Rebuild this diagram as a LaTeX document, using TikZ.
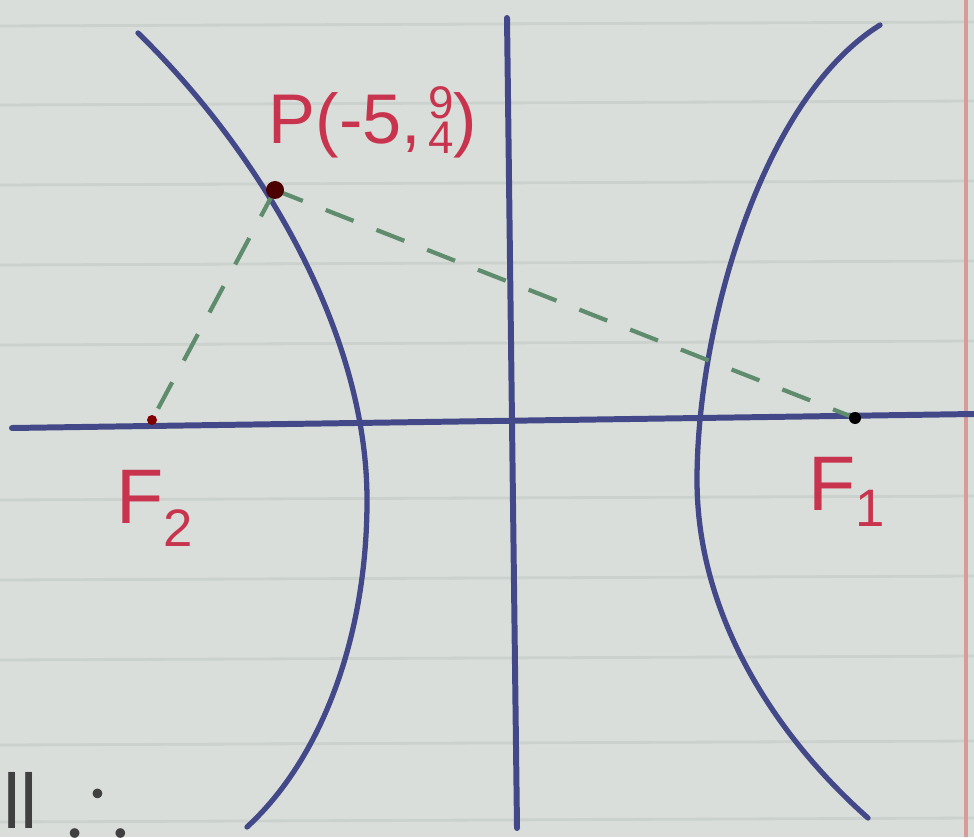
\documentclass[tikz,border=0pt]{standalone}
\usepackage{amssymb}
\usepackage{fontspec}
\setmainfont{Liberation Sans}
\definecolor{paper}{HTML}{D9DEDA}
\definecolor{rule}{HTML}{CBD1CD}
\definecolor{ink}{HTML}{434889}
\definecolor{redink}{HTML}{C8344E}
\definecolor{greenink}{HTML}{5E8C6C}
\definecolor{margin}{HTML}{D99A9A}
\tikzset{
  curve/.style={ink, line width=1.5pt, line cap=round},
  axis/.style={ink, line width=1.7pt, line cap=round},
  dashline/.style={greenink, line width=1.2pt, dash pattern=on 8.5pt off 7pt},
  lbl/.style={text=redink, font=\fontsize{20}{24}\selectfont, inner sep=0pt},
  flbl/.style={text=redink, font=\fontsize{22}{26}\selectfont, inner sep=0pt},
  ruled/.style={rule, line width=0.8pt}
}
\begin{document}
\begin{tikzpicture}[x=0.01cm, y=-0.01cm]
\useasboundingbox (0,0) rectangle (974,837);
\fill[paper] (0,0) rectangle (974,837);
% ruled lines
\foreach \yy in {26,105,185,265,345,500,580,660,745,822}
  \draw[ruled] (0,\yy) -- (974,\yy-4);
\draw[margin, line width=1.2pt] (966,0) -- (966,837);
% axes
\coordinate (xl) at (12,428);
\coordinate (xr) at (974,414);
\coordinate (yt) at (507,18);
\coordinate (yb) at (517,828);
\draw[axis] (xl) -- (xr);
\draw[axis] (yt) -- (yb);
% hyperbola branches
\coordinate (Lt) at (138,33);
\coordinate (Lv) at (367,500);
\coordinate (Lb) at (247,827);
\coordinate (Rt) at (880,25);
\coordinate (Rv) at (697,480);
\coordinate (Rb) at (868,818);
\draw[curve] (Lt) .. controls (258,150) and (367,330) .. (Lv)
                  .. controls (367,640) and (320,760) .. (Lb);
\draw[curve] (Rt) .. controls (760,100) and (697,330) .. (Rv)
                  .. controls (697,620) and (780,740) .. (Rb);
% points
\coordinate (P) at (275,190);
\coordinate (F2) at (152,420);
\coordinate (F1) at (855,418);
\draw[dashline] (P) -- (F2);
\draw[dashline] (P) -- (F1);
\fill[black!70!red] (P) circle (9);
\fill[black!50!red] (F2) circle (5);
\fill[black] (F1) circle (6);
% labels
\node[lbl, anchor=west] (Pl) at (268,122) {P(-5,\hspace{2pt}\raisebox{-0.15em}{\shortstack{\fontsize{13}{12}\selectfont 9\\[-2pt]\fontsize{13}{12}\selectfont 4}})};
\node[flbl] (F2l) at (155,508) {F\raisebox{-0.3em}{\fontsize{15}{15}\selectfont 2}};
\node[flbl] (F1l) at (847,492) {F\raisebox{-0.2em}{\fontsize{15}{15}\selectfont 1}};
% bottom-left fragment
\node[text=black!75, font=\fontsize{22}{22}\selectfont, anchor=west, inner sep=0pt] (frag) at (3,800) {ll};
\node[text=black!75, inner sep=0pt] (therefore) at (98,800) {\scalebox{2.6}{$\therefore$}};
\end{tikzpicture}
\end{document}
